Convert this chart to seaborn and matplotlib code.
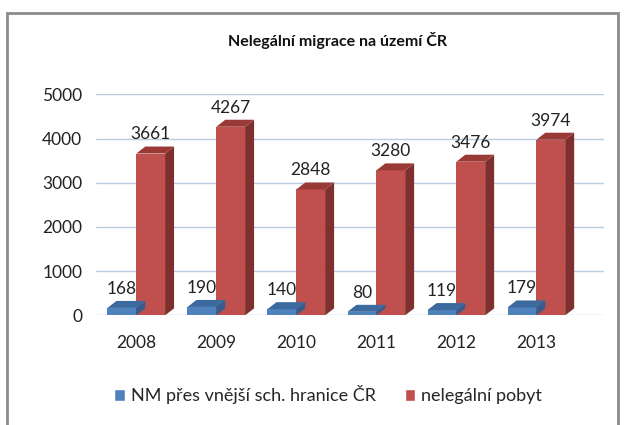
import matplotlib
matplotlib.use('Agg')
import matplotlib.pyplot as plt
import pandas as pd
import seaborn as sns
from matplotlib.patches import Polygon, Rectangle

# Data
years = ['2008', '2009', '2010', '2011', '2012', '2013']
border_crossing = [168, 190, 140, 80, 119, 179]
illegal_stay = [3661, 4267, 2848, 3280, 3476, 3974]
series_names = ['NM přes vnější sch. hranice ČR', 'nelegální pobyt']

df = pd.DataFrame({
    'year': years * 2,
    'count': border_crossing + illegal_stay,
    'series': [series_names[0]] * len(years) + [series_names[1]] * len(years),
})

colors = ['#4F81BD', '#C0504D']
side_colors = ['#355C8C', '#7F302E']
top_colors = ['#3D6A9E', '#9A3A37']

sns.set_style('white')
plt.rcParams['font.family'] = ['Lato', 'DejaVu Sans']

fig = plt.figure(figsize=(6.25, 4.25), dpi=100)
ax = fig.add_axes([0.154, 0.258, 0.813, 0.52])

sns.barplot(data=df, x='year', y='count', hue='series', palette=colors,
            width=0.72, saturation=1, linewidth=0, ax=ax, legend=True)

ax.set_xlim(-0.5, 5.85)
ax.set_ylim(0, 5000)
ax.set_yticks([0, 1000, 2000, 3000, 4000, 5000])
ax.set_xlabel('')
ax.set_ylabel('')
ax.tick_params(axis='both', length=0, labelsize=12.5, colors='#222222')
ax.tick_params(axis='x', pad=14)
ax.tick_params(axis='y', pad=10)
for s in ax.spines.values():
    s.set_visible(False)
ax.grid(axis='y', color='#B9CDE5', linewidth=1)
ax.set_axisbelow(True)

# faux 3D faces derived from the bars seaborn drew
fig.canvas.draw()
dx_px, dy_px = 9, 7
to_data = ax.transData.inverted()
for i, cont in enumerate(ax.containers):
    for p in cont.patches:
        x0, y0 = p.get_x(), p.get_y()
        x1, y1 = x0 + p.get_width(), y0 + p.get_height()
        (X0, Y0) = ax.transData.transform((x0, y0))
        (X1, Y1) = ax.transData.transform((x1, y1))
        side = [(X1, Y0), (X1 + dx_px, Y0 + dy_px), (X1 + dx_px, Y1 + dy_px), (X1, Y1)]
        top = [(X0, Y1), (X0 + dx_px, Y1 + dy_px), (X1 + dx_px, Y1 + dy_px), (X1, Y1)]
        ax.add_patch(Polygon(to_data.transform(side), closed=True,
                             facecolor=side_colors[i], edgecolor='none', zorder=2))
        ax.add_patch(Polygon(to_data.transform(top), closed=True,
                             facecolor=top_colors[i], edgecolor='none', zorder=2))
    ax.bar_label(cont, fmt='%d', padding=8, fontsize=12.5, color='#222222')

ax.legend_.remove()
handles = [Rectangle((0, 0), 1, 1, facecolor=c) for c in colors]
fig.legend(handles, series_names, loc='lower center', bbox_to_anchor=(0.525, 0.01),
           ncol=2, frameon=False, fontsize=13, handlelength=0.6, handleheight=0.6,
           handletextpad=0.3, columnspacing=1.6)

fig.text(0.54, 0.905, 'Nelegální migrace na území ČR', ha='center', va='center',
         fontsize=11.5, fontweight='bold', color='#111111')

# outer chart frame
fig.patches.append(Rectangle((0.011, -0.02), 0.977, 0.99, transform=fig.transFigure,
                             fill=False, edgecolor='#8C8C8C', linewidth=2))

fig.savefig('out.png', dpi=100)
